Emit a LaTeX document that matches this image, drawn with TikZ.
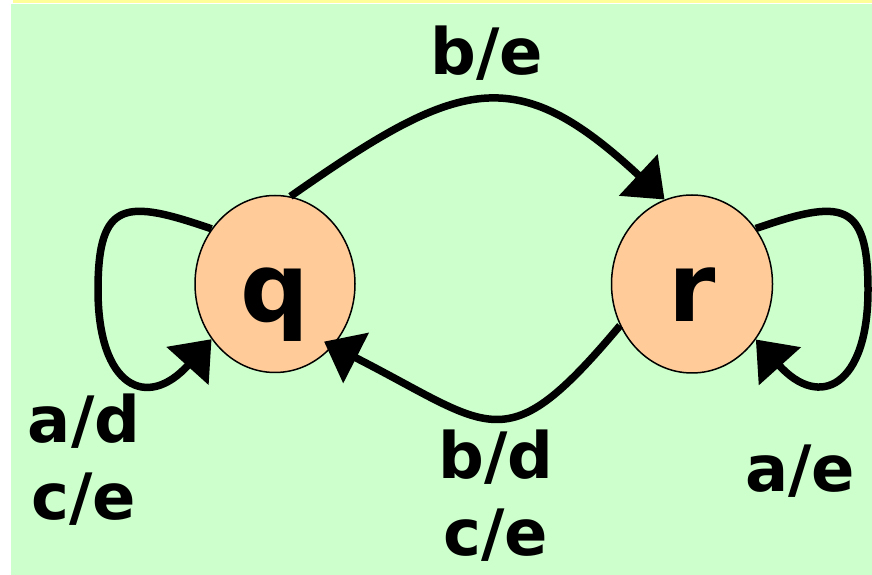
\documentclass[tikz,border=0pt]{standalone}
\usepackage{fontspec}
\setsansfont{DejaVu Sans}
\usetikzlibrary{arrows.meta,shapes.geometric}
\definecolor{bggreen}{HTML}{CCFFCC}
\definecolor{topyellow}{HTML}{FFFF99}
\definecolor{statefill}{HTML}{FFCC99}

\begin{document}
\begin{tikzpicture}[x=1pt, y=1pt,
  statenode/.style={ellipse, draw=black, line width=1.5pt, fill=statefill,
    minimum width=160pt, minimum height=177pt, inner sep=0pt,
    text height=76pt, text depth=0pt,
    font=\sffamily\bfseries\fontsize{96}{96}\selectfont},
  lbl/.style={anchor=base, align=center, inner sep=0pt,
    font=\sffamily\bfseries\fontsize{64}{77}\selectfont},
  trans/.style={line width=7.5pt, -{Triangle[length=36pt,width=55pt]}}]

  % Background
  \useasboundingbox (0,0) rectangle (872,575);
  \fill[white] (0,0) rectangle (872,575);
  \fill[bggreen] (11,0) rectangle (872,571);
  \fill[topyellow] (13,572) rectangle (872,575);

  % States
  \node[statenode] (q) at (275,291) {q};
  \node[statenode, minimum width=161pt, minimum height=178pt] (r) at (692,291) {r};

  % Loop turning points
  \coordinate (qloop) at (98,285);
  \coordinate (rloop) at (868,285);

  % Transitions
  \draw[trans] (q.80) to[out=35, in=137, looseness=1.4] (r.108);
  \draw[trans, shorten >=-10pt] (r.210) to[out=230, in=-27, looseness=1.6] (q.-47);
  \draw[trans] (q.139) to[out=161, in=90, looseness=1.8] (qloop)
    to[out=-90, in=228, looseness=2] (q.221);
  \draw[trans] (r.41) to[out=19, in=90, looseness=1.8] (rloop)
    to[out=-90, in=-48, looseness=2] (r.-41);

  % Labels (base is the last line)
  \node[lbl] (be) at (487,500) {b/e};
  \node[lbl] (bdce) at (496,19) {b/d\\c/e};
  \node[lbl] (adce) at (84,55) {a/d\\c/e};
  \node[lbl] (ae) at (800,83) {a/e};
\end{tikzpicture}
\end{document}
